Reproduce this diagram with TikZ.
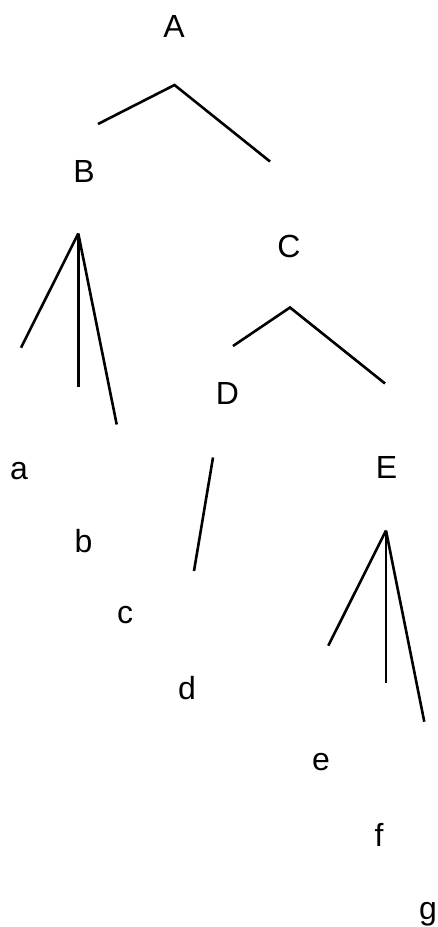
\documentclass[tikz,border=0pt]{standalone}
\usepackage{fontspec}
\setmainfont{Liberation Sans}
\begin{document}
\begin{tikzpicture}[x=1pt,y=-1pt,
  lbl/.style={inner sep=0pt,font=\fontsize{32}{36}\selectfont},
  edge/.style={line width=2.6pt,line cap=butt,line join=miter}]
\useasboundingbox (0,0) rectangle (438,927);
% labels
\node[lbl] (A) at (174,26) {A};
\node[lbl] (B) at (84,171) {B};
\node[lbl] (C) at (289,246) {C};
\node[lbl] (D) at (227.5,393) {D};
\node[lbl] (E) at (386.5,467) {E};
\node[lbl] (a) at (19,471) {a};
\node[lbl] (b) at (83.5,541.5) {b};
\node[lbl] (c) at (125,615) {c};
\node[lbl] (d) at (187,688) {d};
\node[lbl] (e) at (321,762) {e};
\node[lbl] (f) at (379,835) {f};
\node[lbl] (g) at (428,914) {g};
% line end points
\coordinate (A1) at (98,124);
\coordinate (A0) at (174.5,85);
\coordinate (A2) at (270,161.5);
\coordinate (B0) at (78.3,233.5);
\coordinate (B1) at (21,347.7);
\coordinate (B2) at (78.3,386.5);
\coordinate (B3) at (116.7,424.5);
\coordinate (C1) at (233,346);
\coordinate (C0) at (290,307.5);
\coordinate (C2) at (385,383.5);
\coordinate (D0) at (213,457.5);
\coordinate (D1) at (194,571);
\coordinate (E0) at (386,530.5);
\coordinate (E1) at (328.3,645.7);
\coordinate (E2) at (386,683.3);
\coordinate (E3) at (424.3,721.7);
% lines
\draw[edge] (A1) -- (A0) -- (A2);
\draw[edge] (B0) -- (B1);
\draw[edge] (B0) -- (B2);
\draw[edge] (B0) -- (B3);
\draw[edge] (C1) -- (C0) -- (C2);
\draw[edge] (D0) -- (D1);
\draw[edge] (E0) -- (E1);
\draw[edge] (E0) -- (E2);
\draw[edge] (E0) -- (E3);
\end{tikzpicture}
\end{document}
